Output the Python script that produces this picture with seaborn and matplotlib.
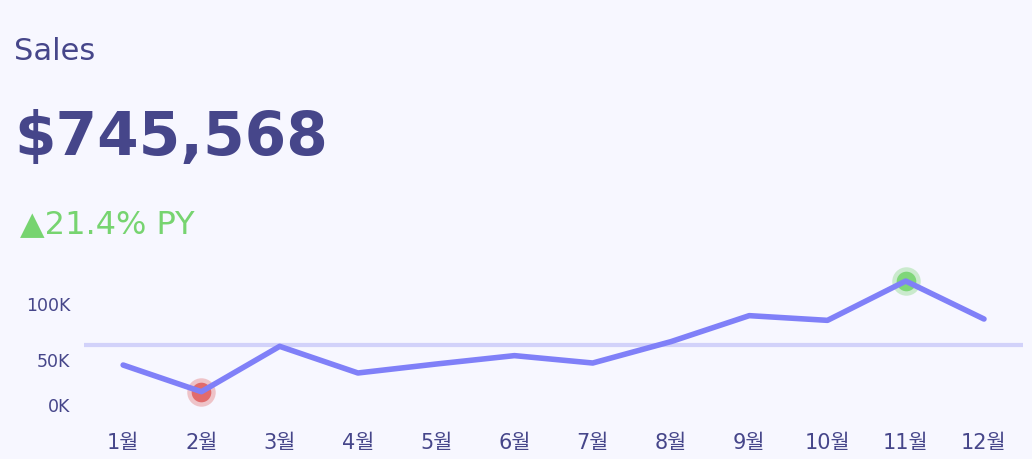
import numpy as np
import pandas as pd
import matplotlib
matplotlib.use("Agg")
import matplotlib.pyplot as plt
import seaborn as sns

sns.set_theme(style="white")
plt.rcParams['font.family'] = ['DejaVu Sans', 'Noto Sans CJK KR']

# data
months = ["1월", "2월", "3월", "4월", "5월", "6월", "7월", "8월", "9월", "10월", "11월", "12월"]
sales = [44600, 20800, 61300, 37500, 45500, 53000, 46400, 65500, 88700, 84500, 119600, 85700]
y_ticks = [0, 50000, 100000]
y_tick_labels = ["0K", "50K", "100K"]
title = "Sales"
total_label = "$745,568"
change_label = "▲21.4% PY"

BG = "#F7F7FF"
TEXT = "#46468A"
LINE = "#8080F8"
MEAN = "#D2D2FA"
GREEN = "#77D470"
RED = "#E06262"

df = pd.DataFrame({"month": months, "sales": sales})
df["pos"] = np.arange(len(df))

fig = plt.figure(figsize=(10.32, 4.6), dpi=100)
fig.patch.set_facecolor(BG)
ax = fig.add_axes([0.0814, 0.0957, 0.91, 0.3043])
ax.set_facecolor(BG)

# mean line
ax.axhline(df["sales"].mean(), color=MEAN, lw=3, zorder=1)

sns.lineplot(data=df, x="pos", y="sales", color=LINE, lw=4, ax=ax, zorder=3,
             solid_capstyle="round", solid_joinstyle="round")

# min / max markers
i_min = df["sales"].idxmin()
i_max = df["sales"].idxmax()
for i, c in [(i_min, RED), (i_max, GREEN)]:
    ax.scatter(df["pos"][i], df["sales"][i], s=420, color=c, alpha=0.35, lw=0, zorder=2, clip_on=False)
    ax.scatter(df["pos"][i], df["sales"][i], s=200, color=c, alpha=0.9, lw=0, zorder=2, clip_on=False)

ax.set_xlim(-0.5, len(df) - 0.5)
ax.set_ylim(0, 125000)
ax.set_xticks(df["pos"])
ax.set_xticklabels(months)
ax.set_xticks(np.arange(len(df) + 1) - 0.5, minor=True)
ax.set_yticks(y_ticks)
ax.set_yticklabels(y_tick_labels)
ax.tick_params(axis="x", which="major", length=0, labelsize=15, labelcolor=TEXT, pad=12)
ax.tick_params(axis="x", which="minor", length=8, color="#ECECF4", width=1, direction="in")
ax.tick_params(axis="y", length=5, color="#ECECF4", labelsize=12.5, labelcolor=TEXT, pad=5)
ax.set_xlabel("")
ax.set_ylabel("")
for s in ax.spines.values():
    s.set_visible(False)
ax.yaxis.get_ticklabels()[0].set_va("bottom")

# header texts
fig.text(14 / 1032, 1 - 60 / 460, title, fontsize=22, color=TEXT, va="baseline", ha="left")
fig.text(14 / 1032, 1 - 155 / 460, total_label, fontsize=43, fontweight="bold", color=TEXT,
         va="baseline", ha="left")
fig.text(20 / 1032, 1 - 233 / 460, change_label, fontsize=23, color=GREEN, va="baseline", ha="left")

fig.savefig("out.png", dpi=100, facecolor=BG)
